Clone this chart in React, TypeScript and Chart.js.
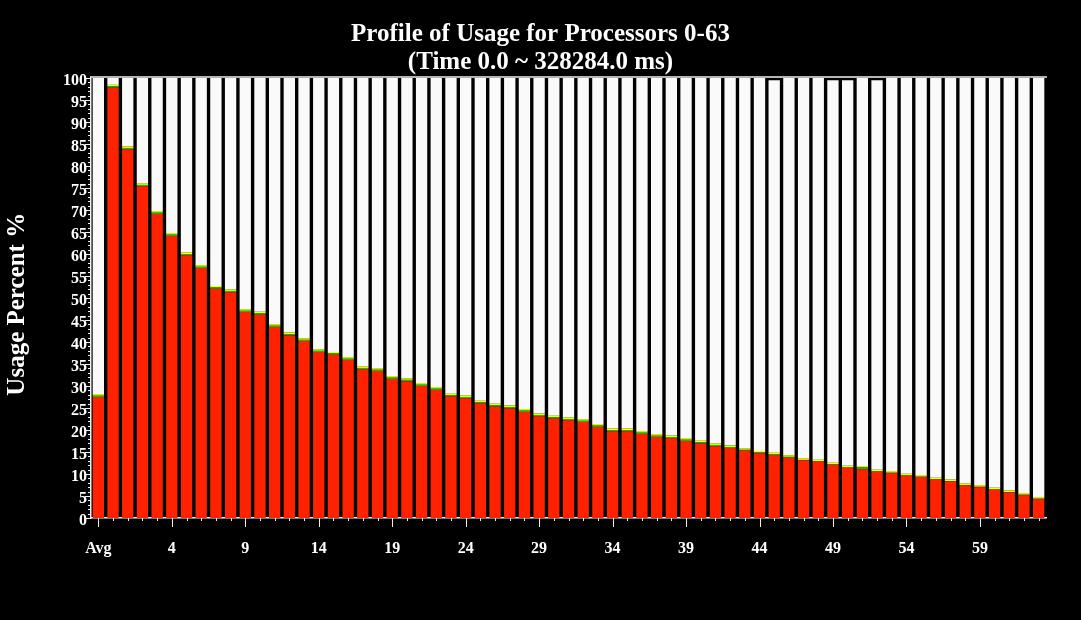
import React, { useEffect, useRef } from "react";
import { Chart, registerables } from "chart.js";

Chart.register(...registerables);

const titleLines = ["Profile of Usage for Processors 0-63", "(Time 0.0 ~ 328284.0 ms)"];
const yAxisTitle = "Usage Percent %  ";

const categories = [
  "Avg", "0", "1", "2", "3", "4", "5", "6", "7", "8", "9", "10", "11", "12", "13", "14", "15",
  "16", "17", "18", "19", "20", "21", "22", "23", "24", "25", "26", "27", "28", "29", "30", "31",
  "32", "33", "34", "35", "36", "37", "38", "39", "40", "41", "42", "43", "44", "45", "46", "47",
  "48", "49", "50", "51", "52", "53", "54", "55", "56", "57", "58", "59", "60", "61", "62", "63",
];

// Red: busy usage (%)
const usage = [
  27.5,
  97.8, 83.8, 75.4, 69.1, 64.1, 59.7, 56.8, 52.1, 51.3, 46.8, 46.2, 43.4, 41.5, 40.2, 37.7, 37.1,
  35.9, 33.8, 33.4, 31.6, 31.1, 30.0, 29.1, 27.6, 27.2, 26.0, 25.3, 24.9, 24.1, 23.1, 22.6, 22.2,
  21.8, 20.7, 19.7, 19.7, 19.1, 18.4, 18.1, 17.5, 16.9, 16.3, 15.9, 15.3, 14.7, 14.3, 13.7, 13.1,
  12.8, 12.1, 11.4, 11.1, 10.5, 10.2, 9.6, 9.3, 8.7, 8.3, 7.4, 7.0, 6.4, 5.8, 5.2, 4.3,
];

// Green: overhead (%)
const overhead = [
  0.3,
  0.3, 0.3, 0.3, 0.3, 0.3, 0.3, 0.3, 0.3, 0.3, 0.3, 0.3, 0.3, 0.3, 0.3, 0.3, 0.3,
  0.3, 0.3, 0.3, 0.3, 0.3, 0.3, 0.3, 0.3, 0.3, 0.3, 0.3, 0.3, 0.3, 0.3, 0.3, 0.3,
  0.3, 0.3, 0.3, 0.3, 0.3, 0.3, 0.3, 0.3, 0.3, 0.3, 0.2, 0.2, 0.2, 0.2, 0.2, 0.1,
  0.1, 0.1, 0.1, 0.4, 0.1, 0.1, 0.1, 0.1, 0.1, 0.1, 0.1, 0.1, 0.1, 0.1, 0.1, 0.1,
];

// Yellow: other (%)
const other = [
  0.35,
  0.35, 0.35, 0.35, 0.35, 0.35, 0.35, 0.35, 0.35, 0.35, 0.35, 0.35, 0.35, 0.35, 0.35, 0.35, 0.35,
  0.35, 0.35, 0.35, 0.35, 0.35, 0.35, 0.35, 0.35, 0.35, 0.35, 0.35, 0.35, 0.35, 0.35, 0.35, 0.35,
  0.35, 0.35, 0.35, 0.35, 0.35, 0.35, 0.35, 0.35, 0.35, 0.35, 0.35, 0.35, 0.35, 0.35, 0.35, 0.35,
  0.35, 0.35, 0.35, 0.3, 0.35, 0.35, 0.35, 0.35, 0.35, 0.35, 0.35, 0.35, 0.35, 0.35, 0.35, 0.35,
];

// White: idle (%)
const idle = [
  71.85,
  1.55, 15.55, 23.95, 30.25, 35.25, 39.65, 42.55, 47.25, 48.05, 52.55, 53.15, 55.95, 57.85, 59.15, 61.65, 62.25,
  63.45, 65.55, 65.95, 67.75, 68.25, 69.35, 70.25, 71.75, 72.15, 73.35, 74.05, 74.45, 75.25, 76.25, 76.75, 77.15,
  77.55, 78.65, 79.65, 79.65, 80.25, 80.95, 81.25, 81.85, 82.45, 83.05, 83.55, 84.15, 84.75, 84.65, 85.75, 86.45,
  86.75, 86.95, 87.65, 88.2, 88.55, 89.35, 89.95, 90.25, 90.85, 91.25, 92.15, 92.55, 93.15, 93.75, 94.35, 95.25,
];

const axisLinePlugin = {
  id: "axisTicks",
  afterDraw(chart: any) {
    const { ctx, chartArea, scales } = chart;
    const x = scales.x;
    const y = scales.y;
    ctx.save();
    ctx.strokeStyle = "#f0f0f0";
    ctx.lineWidth = 1.5;
    ctx.beginPath();
    ctx.moveTo(chartArea.left - 1, chartArea.top - 1);
    ctx.lineTo(chartArea.right + 1, chartArea.top - 1);
    ctx.stroke();
    ctx.lineWidth = 1;
    ctx.beginPath();
    for (let v = 0; v <= 100; v++) {
      const py = Math.round(y.getPixelForValue(v)) + 0.5;
      const len = v % 5 === 0 ? 6 : 3;
      ctx.moveTo(chartArea.left - len, py);
      ctx.lineTo(chartArea.left, py);
    }
    for (let i = 0; i < categories.length; i++) {
      const px = Math.round(x.getPixelForValue(i)) + 0.5;
      const len = i % 5 === 0 ? 9 : 3;
      ctx.moveTo(px, chartArea.bottom);
      ctx.lineTo(px, chartArea.bottom + len);
    }
    ctx.stroke();
    ctx.restore();
  },
};

const serif = "'Liberation Serif', 'Times New Roman', serif";

export default function App() {
  const canvasRef = useRef<HTMLCanvasElement>(null);

  useEffect(() => {
    document.body.style.margin = "0";
    document.body.style.background = "#000";
    const canvas = canvasRef.current;
    if (!canvas) return;
    const barOpts = { barPercentage: 0.77, categoryPercentage: 1, borderWidth: 0 };
    const chart = new Chart(canvas, {
      type: "bar",
      data: {
        labels: categories,
        datasets: [
          { label: "Usage", data: usage, backgroundColor: "#ff2200", ...barOpts },
          { label: "Overhead", data: overhead, backgroundColor: "#10c010", ...barOpts },
          { label: "Other", data: other, backgroundColor: "#ffff00", ...barOpts },
          { label: "Idle", data: idle, backgroundColor: "#fafafa", ...barOpts },
        ],
      },
      options: {
        animation: false,
        responsive: true,
        maintainAspectRatio: false,
        layout: { padding: 0 },
        plugins: {
          legend: { display: false },
          tooltip: { enabled: false },
          title: {
            display: true,
            text: titleLines,
            color: "#ffffff",
            font: { family: serif, size: 25, weight: "bold", lineHeight: 28 / 25 },
            padding: { top: 21, bottom: 1 },
          },
        },
        scales: {
          x: {
            stacked: true,
            afterFit: (s: any) => { s.height = 102; },
            grid: { display: false, drawTicks: false },
            border: { display: true, color: "#f0f0f0", width: 1.5 },
            ticks: {
              autoSkip: false,
              maxRotation: 0,
              color: "#ffffff",
              font: { family: serif, size: 16, weight: "bold" },
              padding: 21,
              callback: (_v: any, i: number) => (i % 5 === 0 ? categories[i] : ""),
            },
          },
          y: {
            stacked: true,
            min: 0,
            max: 100,
            afterFit: (s: any) => { s.width = 91; },
            grid: { display: false, drawTicks: false },
            border: { display: true, color: "#f0f0f0", width: 1.5 },
            title: {
              display: true,
              text: yAxisTitle,
              color: "#ffffff",
              font: { family: serif, size: 25, weight: "bold", lineHeight: 1.2 },
              padding: { top: 3, bottom: 0 },
            },
            ticks: {
              stepSize: 1,
              autoSkip: false,
              color: "#ffffff",
              font: { family: serif, size: 16, weight: "bold" },
              padding: 4,
              labelOffset: 3,
              callback: (v: any) => (Number(v) % 5 === 0 ? String(v) : ""),
            },
          },
          rightMargin: {
            position: "right",
            display: true,
            afterFit: (s: any) => { s.width = 35; },
            grid: { display: false, drawTicks: false },
            border: { display: false },
            ticks: { display: false },
          },
        },
      },
      plugins: [axisLinePlugin],
    });
    return () => chart.destroy();
  }, []);

  return (
    <div style={{ width: 1081, height: 620, background: "#000", position: "relative" }}>
      <canvas ref={canvasRef} />
    </div>
  );
}
